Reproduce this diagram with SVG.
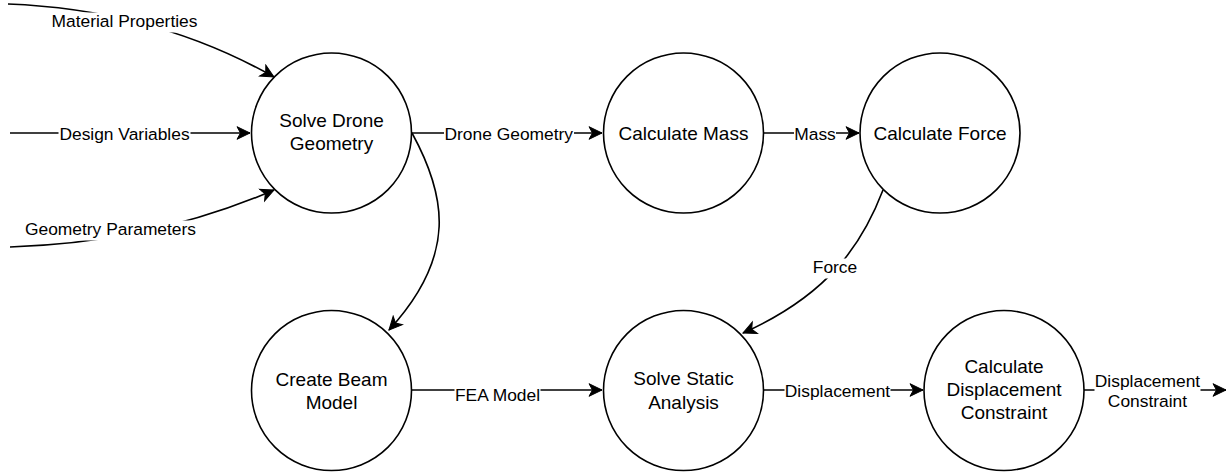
<svg xmlns="http://www.w3.org/2000/svg" width="1228" height="474" viewBox="0 0 1228 474">
  <style>
    .node circle { fill: #ffffff; stroke: #000000; stroke-width: 1.6; }
    .node text { font-family: "Liberation Sans", Arial, sans-serif; font-size: 19px; fill: #000000; text-anchor: middle; }
    .edge { fill: none; stroke: #000000; stroke-width: 1.6; marker-end: url(#arrow); }
    .label-bg { fill: #ffffff; }
    .label { font-family: "Liberation Sans", Arial, sans-serif; font-size: 17.4px; fill: #000000; text-anchor: middle; }
  </style>
  <defs>
    <marker id="arrow" markerUnits="userSpaceOnUse" markerWidth="16" markerHeight="16" viewBox="-14 -8 16 16" refX="0" refY="0" orient="auto">
      <path d="M0,0 L-13,-6.3 L-9.5,0 L-13,6.3 Z" fill="#000000" stroke="#000000" stroke-width="1"/>
    </marker>
  </defs>
  <rect width="1228" height="474" fill="#ffffff"/>

  <!-- connectors -->
  <g id="connectors">
    <path class="edge" d="M8,4 C110,8 200,35 274,77"/>
    <path class="edge" d="M10,133 L250,133"/>
    <path class="edge" d="M10,247 C110,244 200,222 274,190"/>
    <path class="edge" d="M412,133 L602,133"/>
    <path class="edge" d="M764,133 L859,133"/>
    <path class="edge" d="M412,133 C446,195 458,255 389,330"/>
    <path class="edge" d="M883,190 C862,245 828,295 743,333"/>
    <path class="edge" d="M412,390 L602,390"/>
    <path class="edge" d="M764,390 L923,390"/>
    <path class="edge" d="M1084,390 L1226,390"/>

    <!-- connector labels -->
    <rect class="label-bg" x="51" y="12.5" width="147" height="20"/>
    <text class="label" x="124.5" y="27">Material Properties</text>

    <rect class="label-bg" x="58.5" y="125.5" width="132" height="20"/>
    <text class="label" x="124.5" y="140">Design Variables</text>

    <rect class="label-bg" x="24.5" y="220.5" width="172" height="20"/>
    <text class="label" x="110.5" y="235">Geometry Parameters</text>

    <rect class="label-bg" x="444" y="125.5" width="130" height="20"/>
    <text class="label" x="508.8" y="140">Drone Geometry</text>

    <rect class="label-bg" x="794" y="125.5" width="42" height="20"/>
    <text class="label" x="815" y="140">Mass</text>

    <rect class="label-bg" x="812.5" y="258.5" width="45" height="20"/>
    <text class="label" x="835" y="273">Force</text>

    <rect class="label-bg" x="454.5" y="386" width="86" height="20"/>
    <text class="label" x="497.5" y="400.5">FEA Model</text>

    <rect class="label-bg" x="784.5" y="382.5" width="106" height="20"/>
    <text class="label" x="837.5" y="397">Displacement</text>

    <rect class="label-bg" x="1094.5" y="372" width="106" height="40"/>
    <text class="label" x="1147.5" y="386.7">Displacement</text>
    <text class="label" x="1147.5" y="406.7">Constraint</text>
  </g>

  <!-- nodes -->
  <g id="solve-drone-geometry" class="node">
    <circle cx="331.5" cy="133" r="80"/>
    <text x="331.5" y="127">Solve Drone</text>
    <text x="331.5" y="150">Geometry</text>
  </g>
  <g id="calculate-mass" class="node">
    <circle cx="683.5" cy="133" r="80"/>
    <text x="683.5" y="139.5">Calculate Mass</text>
  </g>
  <g id="calculate-force" class="node">
    <circle cx="940" cy="133" r="80"/>
    <text x="940" y="139.5">Calculate Force</text>
  </g>
  <g id="create-beam-model" class="node">
    <circle cx="331.5" cy="390.5" r="80"/>
    <text x="331.5" y="385.5">Create Beam</text>
    <text x="331.5" y="409">Model</text>
  </g>
  <g id="solve-static-analysis" class="node">
    <circle cx="683.5" cy="390.5" r="80"/>
    <text x="683.5" y="385">Solve Static</text>
    <text x="683.5" y="408.5">Analysis</text>
  </g>
  <g id="calculate-displacement-constraint" class="node">
    <circle cx="1004" cy="390.5" r="80"/>
    <text x="1004" y="372.7">Calculate</text>
    <text x="1004" y="396">Displacement</text>
    <text x="1004" y="419">Constraint</text>
  </g>
</svg>
